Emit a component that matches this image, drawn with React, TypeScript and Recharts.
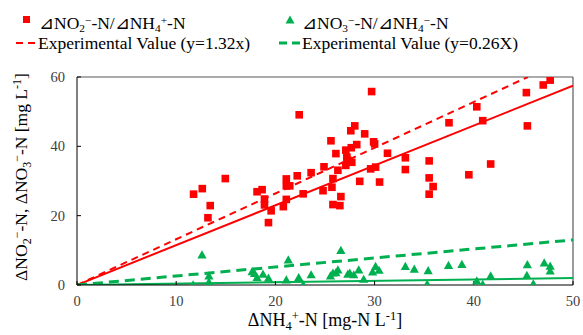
import React from 'react';
import { ComposedChart, Scatter, Line, XAxis, YAxis, ReferenceLine } from 'recharts';

// ΔNO2−-N vs ΔNH4+-N
const nitriteX = [
  11.75, 12.63, 14.95, 13.43, 13.2, 18.15, 18.66, 18.9, 18.9, 19.57,
  19.3, 21.1, 21.1, 21.45, 22.2, 22.8, 21.1, 20.8, 22.4, 23.6,
  24.9, 24.8, 25.6, 29.7, 28.0, 27.6, 29.0, 29.9, 30.0, 28.2,
  26.1, 27.1, 27.65, 27.2, 31.3, 33.1, 27.3, 27.7, 27.1, 26.3,
  29.6, 30.1, 33.1, 25.8, 28.5, 30.5, 25.7, 26.6, 25.8, 26.5,
  47.7, 47.0, 45.3, 40.3, 37.5, 40.9, 45.4, 35.5, 41.7, 39.5,
  35.5, 35.9, 35.5,
];
const nitriteY = [
  26.2, 27.8, 30.7, 22.9, 19.4, 26.9, 27.5, 24.8, 23.1, 21.4,
  18.0, 30.6, 28.6, 28.6, 31.5, 26.3, 24.7, 22.6, 49.1, 32.4,
  34.1, 27.2, 41.6, 55.8, 45.9, 44.5, 43.6, 41.3, 40.7, 40.5,
  37.9, 38.9, 39.6, 36.9, 38.0, 36.7, 36.0, 35.4, 34.5, 33.1,
  33.5, 34.0, 33.3, 30.7, 29.9, 29.7, 28.2, 25.5, 23.2, 22.9,
  59.1, 57.7, 55.5, 51.4, 46.8, 47.4, 45.9, 35.8, 34.9, 31.8,
  30.9, 28.4, 26.2,
];

// ΔNO3−-N vs ΔNH4+-N
const nitrateX = [
  11.7, 12.6, 13.3, 13.3, 17.65, 17.9, 18.15, 18.75, 19.3, 21.3,
  21.1, 22.35, 22.8, 23.6, 25.55, 25.8, 26.1, 26.3, 26.6, 27.3,
  27.5, 27.9, 28.4, 28.9, 29.8, 30.1, 30.45, 33.1, 34.0, 35.4,
  35.3, 37.45, 38.8, 40.3, 40.9, 41.7, 45.4, 45.35, 46.0, 47.1,
  47.7, 47.7,
];
const nitrateY = [
  0.0, 8.65, 2.6, 0.8, 3.8, 3.3, 2.1, 3.1, 1.9, 7.2,
  1.4, 2.1, 0.0, 2.9, 2.6, 3.4, 3.5, 4.3, 9.95, 3.1,
  3.4, 2.9, 4.3, 1.6, 3.7, 5.3, 4.2, 5.3, 4.5, 4.1,
  0.2, 5.6, 5.9, 1.15, 0.1, 2.6, 5.8, 2.7, 0.3, 6.3,
  5.4, 4.0,
];

// line slopes
const nitriteFitSlope = 1.15;
const nitriteExpSlope = 1.32;
const nitrateFitSlope = 0.04;
const nitrateExpSlope = 0.26;

const xTicks = [0, 10, 20, 30, 40, 50];
const yTicks = [0, 20, 40, 60];
const X_MAX = 50;
const Y_MAX = 60;

const RED = '#FF0000';
const GREEN = '#00B050';
const FONT = '"Liberation Serif", "Times New Roman", serif';

const zip = (xs: number[], ys: number[]) => xs.map((x, i) => ({ x, y: ys[i] }));
const lineData = (slope: number) => {
  const end = Math.min(X_MAX, Y_MAX / slope);
  return [{ x: 0, y: 0 }, { x: end, y: end * slope }];
};

const nitriteData = zip(nitriteX, nitriteY);
const nitrateData = zip(nitrateX, nitrateY);

const Square = (props: any) => {
  const { cx, cy } = props;
  if (cx == null || cy == null) return null;
  return <rect x={cx - 3.8} y={cy - 3.8} width={7.6} height={7.6} fill={RED} />;
};
const Tri = (props: any) => {
  const { cx, cy } = props;
  if (cx == null || cy == null) return null;
  return (
    <polygon
      points={`${cx},${cy - 4.8} ${cx - 4.6},${cy + 3.4} ${cx + 4.6},${cy + 3.4}`}
      fill={GREEN}
    />
  );
};

const XTitle = (props: any) => {
  const vb = props.viewBox || {};
  const cx = vb.x + vb.width / 2;
  const y = 326;
  return (
    <text x={cx} y={y} textAnchor="middle" fontFamily={FONT} fontSize={18} fill="#000">
      <tspan>ΔNH</tspan>
      <tspan fontSize={12.5} dy={4}>4</tspan>
      <tspan fontSize={12.5} dy={-10}>+</tspan>
      <tspan dy={6}>-N [mg-N L</tspan>
      <tspan fontSize={12.5} dy={-6}>-1</tspan>
      <tspan dy={6}>]</tspan>
    </text>
  );
};

const YTitle = () => {
  const x = 27;
  const y = 177;
  return (
    <text
      x={x}
      y={y}
      textAnchor="middle"
      fontFamily={FONT}
      fontSize={17.5}
      fill="#000"
      transform={`rotate(-90 ${x} ${y})`}
    >
      <tspan>ΔNO</tspan>
      <tspan fontSize={12} dy={4}>2</tspan>
      <tspan fontSize={12} dy={-10}>−</tspan>
      <tspan dy={6}>-N, ΔNO</tspan>
      <tspan fontSize={12} dy={4}>3</tspan>
      <tspan fontSize={12} dy={-10}>−</tspan>
      <tspan dy={6}>-N [mg L</tspan>
      <tspan fontSize={12} dy={-6}>-1</tspan>
      <tspan dy={6}>]</tspan>
    </text>
  );
};

const sub = { fontSize: '0.65em', verticalAlign: '-0.25em' } as React.CSSProperties;
const sup = { fontSize: '0.65em', verticalAlign: '0.45em' } as React.CSSProperties;

const Legend = () => {
  const textStyle: React.CSSProperties = {
    position: 'absolute',
    fontFamily: FONT,
    fontSize: 17.5,
    lineHeight: '20px',
    color: '#000',
    whiteSpace: 'nowrap',
  };
  return (
    <>
      <div style={{ position: 'absolute', left: 23, top: 16, width: 7, height: 7, background: RED }} />
      <div style={{ ...textStyle, left: 39, top: 10 }}>
        ⊿NO<span style={sub}>2</span><span style={sup}>−</span>-N/⊿NH<span style={sub}>4</span>
        <span style={sup}>+</span>-N
      </div>
      <svg style={{ position: 'absolute', left: 284, top: 14 }} width={12} height={12}>
        <polygon points="6,1.5 1.5,9.5 10.5,9.5" fill={GREEN} />
      </svg>
      <div style={{ ...textStyle, left: 302, top: 10 }}>
        ⊿NO<span style={sub}>3</span><span style={sup}>−</span>-N/⊿NH<span style={sub}>4</span>
        <span style={sup}>−</span>-N
      </div>
      <svg style={{ position: 'absolute', left: 15, top: 38 }} width={22} height={10}>
        <line x1={1} y1={5} x2={22} y2={5} stroke={RED} strokeWidth={2} strokeDasharray="7 5" />
      </svg>
      <div style={{ ...textStyle, left: 38, top: 33 }}>Experimental Value (y=1.32x)</div>
      <svg style={{ position: 'absolute', left: 278, top: 38 }} width={24} height={10}>
        <line x1={1} y1={5} x2={24} y2={5} stroke={GREEN} strokeWidth={3} strokeDasharray="8 5" />
      </svg>
      <div style={{ ...textStyle, left: 302, top: 33 }}>Experimental Value (y=0.26X)</div>
    </>
  );
};

export default function App() {
  const tickStyle = { fontFamily: FONT, fontSize: 14.5, fill: '#404040' };
  return (
    <div style={{ position: 'absolute', left: 0, top: 0, width: 583, height: 335, background: '#fff' }}>
      <ComposedChart
        width={583}
        height={335}
        margin={{ top: 77, right: 10, bottom: 0, left: 0 }}
      >
        <XAxis
          type="number"
          dataKey="x"
          domain={[0, X_MAX]}
          ticks={xTicks}
          allowDataOverflow
          height={50}
          tickSize={-4}
          tickMargin={15}
          tick={tickStyle}
          axisLine={{ stroke: '#000', strokeWidth: 1 }}
          tickLine={{ stroke: '#000' }}
          label={<XTitle />}
        />
        <YAxis
          type="number"
          dataKey="y"
          domain={[0, Y_MAX]}
          ticks={yTicks}
          allowDataOverflow
          width={77}
          tickSize={-4}
          tickMargin={16}
          tick={tickStyle}
          axisLine={{ stroke: '#000', strokeWidth: 1 }}
          tickLine={{ stroke: '#000' }}
          label={<YTitle />}
        />
        <ReferenceLine y={Y_MAX} stroke="#595959" strokeWidth={1.2} />
        <ReferenceLine x={X_MAX} stroke="#595959" strokeWidth={1.2} />
        <Line
          data={lineData(nitriteExpSlope)}
          dataKey="y"
          stroke={RED}
          strokeWidth={2}
          strokeDasharray="7 5"
          dot={false}
          activeDot={false}
          isAnimationActive={false}
        />
        <Line
          data={lineData(nitriteFitSlope)}
          dataKey="y"
          stroke={RED}
          strokeWidth={2}
          dot={false}
          activeDot={false}
          isAnimationActive={false}
        />
        <Line
          data={lineData(nitrateExpSlope)}
          dataKey="y"
          stroke={GREEN}
          strokeWidth={3}
          strokeDasharray="10 6"
          dot={false}
          activeDot={false}
          isAnimationActive={false}
        />
        <Line
          data={lineData(nitrateFitSlope)}
          dataKey="y"
          stroke={GREEN}
          strokeWidth={2}
          dot={false}
          activeDot={false}
          isAnimationActive={false}
        />
        <Scatter data={nitriteData} dataKey="y" shape={<Square />} isAnimationActive={false} />
        <Scatter data={nitrateData} dataKey="y" shape={<Tri />} isAnimationActive={false} />
      </ComposedChart>
      <Legend />
    </div>
  );
}
